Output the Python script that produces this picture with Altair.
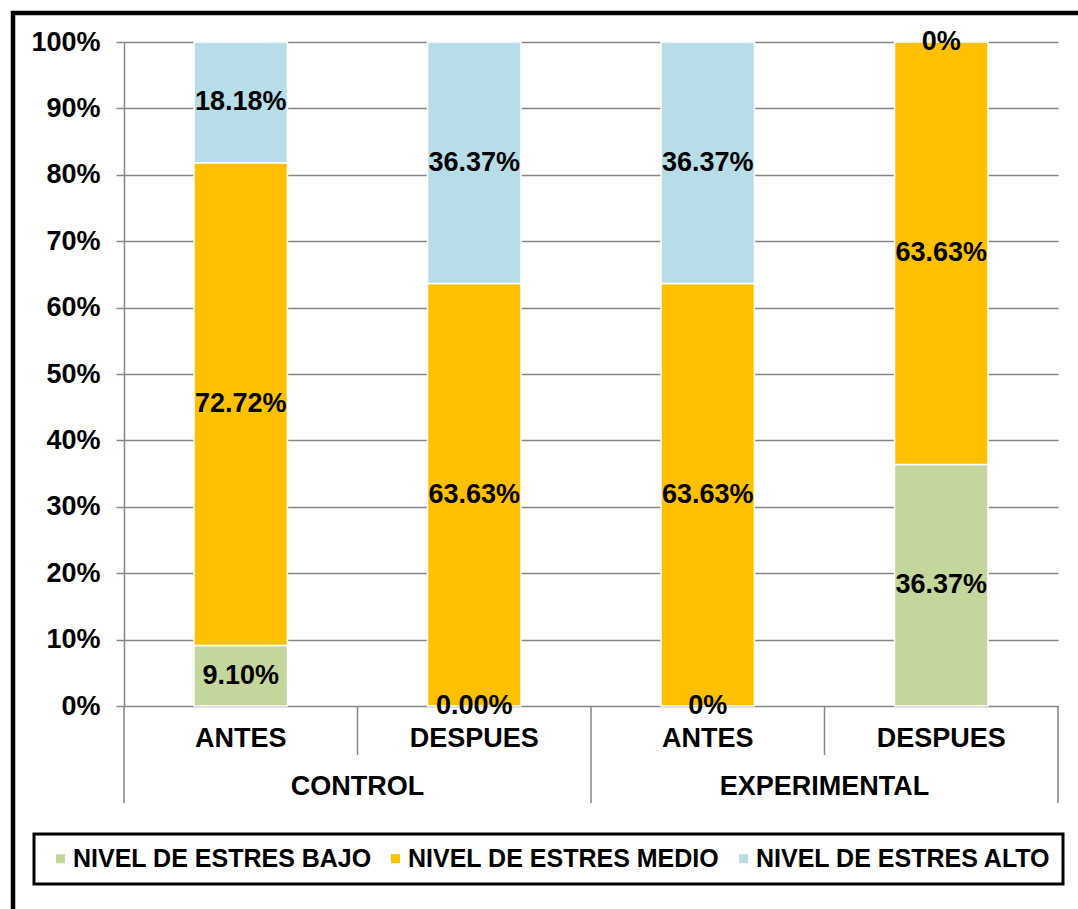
import altair as alt
import pandas as pd

groups = ["CONTROL", "CONTROL", "EXPERIMENTAL", "EXPERIMENTAL"]
moments = ["ANTES", "DESPUES", "ANTES", "DESPUES"]
series = ["NIVEL DE ESTRES BAJO", "NIVEL DE ESTRES MEDIO", "NIVEL DE ESTRES ALTO"]
bajo = [9.10, 0.00, 0.0, 36.37]
medio = [72.72, 63.63, 63.63, 63.63]
alto = [18.18, 36.37, 36.37, 0.0]
bajo_labels = ["9.10%", "0.00%", "0%", "36.37%"]
medio_labels = ["72.72%", "63.63%", "63.63%", "63.63%"]
alto_labels = ["18.18%", "36.37%", "36.37%", "0%"]
colors = ["#C3D69B", "#FFC000", "#B7DDE8"]
y_ticks = list(range(0, 101, 10))

FONT = "Liberation Sans"
GRAY = "#868686"
W, H = 934, 664

rows = []
for i in range(len(moments)):
    base = 0.0
    for k, (s, vals, labs) in enumerate(zip(series, [bajo, medio, alto],
                                             [bajo_labels, medio_labels, alto_labels])):
        v = vals[i]
        rows.append(dict(idx=i, x0=i + 0.3, x1=i + 0.7, xc=i + 0.5, series=s,
                         value=v, y0=base, y1=base + v, mid=base + v / 2,
                         label=labs[i], order=k))
        base += v
df = pd.DataFrame(rows)

cats = pd.DataFrame(dict(xc=[i + 0.5 for i in range(len(moments))], moment=moments))

grp_rows = []
outer = [0]
inner = []
start = 0
for i in range(1, len(groups) + 1):
    if i == len(groups) or groups[i] != groups[start]:
        grp_rows.append(dict(group=groups[start], xc=(start + i) / 2))
        outer.append(i)
        start = i
    else:
        inner.append(i)
grps = pd.DataFrame(grp_rows)
outer_df = pd.DataFrame(dict(x=outer))
inner_df = pd.DataFrame(dict(x=inner))

xscale = alt.Scale(domain=[0, len(moments)], nice=False, zero=False)
yscale = alt.Scale(domain=[0, 100], nice=False)

yaxis = alt.Axis(values=y_ticks, labelExpr="datum.value + '%'", title=None,
                 grid=True, gridColor=GRAY, gridWidth=1.5,
                 domainColor=GRAY, domainWidth=1.5,
                 tickColor=GRAY, tickWidth=1.5, tickSize=8, labelPadding=16,
                 labelFont=FONT, labelFontSize=27, labelFontWeight="bold",
                 labelColor="black")

legend = alt.Legend(title=None, orient="none", legendX=-76, legendY=804,
                    direction="horizontal", symbolType="square", symbolSize=81,
                    symbolStrokeWidth=0, symbolOpacity=1, labelOffset=0,
                    columnPadding=11, padding=0, labelLimit=0,
                    labelFont=FONT, labelFontSize=25, labelFontWeight="bold",
                    labelColor="black")

bars = alt.Chart(df).transform_filter("datum.value > 0").mark_bar(
    stroke="white", strokeWidth=1.5).encode(
    x=alt.X("x0:Q", scale=xscale, axis=None),
    x2="x1:Q",
    y=alt.Y("y0:Q", scale=yscale, axis=yaxis),
    y2="y1:Q",
    color=alt.Color("series:N", scale=alt.Scale(domain=series, range=colors),
                    legend=legend),
)

labels = alt.Chart(df).mark_text(font=FONT, fontSize=27, fontWeight="bold",
                                 color="black", baseline="middle").encode(
    x=alt.X("xc:Q", scale=xscale),
    y=alt.Y("mid:Q", scale=yscale),
    text="label:N",
)

outer_rules = alt.Chart(outer_df).mark_rule(color=GRAY, strokeWidth=1.5).encode(
    x=alt.X("x:Q", scale=xscale), y=alt.value(H), y2=alt.value(H + 97))
inner_rules = alt.Chart(inner_df).mark_rule(color=GRAY, strokeWidth=1.5).encode(
    x=alt.X("x:Q", scale=xscale), y=alt.value(H), y2=alt.value(H + 49))

cat_text = alt.Chart(cats).mark_text(font=FONT, fontSize=27, fontWeight="bold",
                                     color="black", baseline="middle").encode(
    x=alt.X("xc:Q", scale=xscale), y=alt.value(H + 33), text="moment:N")
grp_text = alt.Chart(grps).mark_text(font=FONT, fontSize=27, fontWeight="bold",
                                     color="black", baseline="middle").encode(
    x=alt.X("xc:Q", scale=xscale), y=alt.value(H + 81), text="group:N")

frame = alt.Chart(alt.Data(values=[{"a": 1}])).mark_rect(
    fillOpacity=0, stroke="black", strokeWidth=4.5).encode(
    x=alt.value(-111), x2=alt.value(980), y=alt.value(-29), y2=alt.value(900))
legend_box = alt.Chart(alt.Data(values=[{"a": 1}])).mark_rect(
    fillOpacity=0, stroke="black", strokeWidth=3).encode(
    x=alt.value(-90), x2=alt.value(939), y=alt.value(792), y2=alt.value(842))

chart = alt.layer(frame, legend_box, bars, outer_rules, inner_rules, labels,
                  cat_text, grp_text).properties(
    width=W, height=H,
    autosize=alt.AutoSizeParams(type="none"),
    padding={"left": 124, "top": 42, "right": 20, "bottom": 203},
    background="white",
).configure_view(stroke=None)

chart.save("out.html", embed_options={"renderer": "svg", "actions": False})
